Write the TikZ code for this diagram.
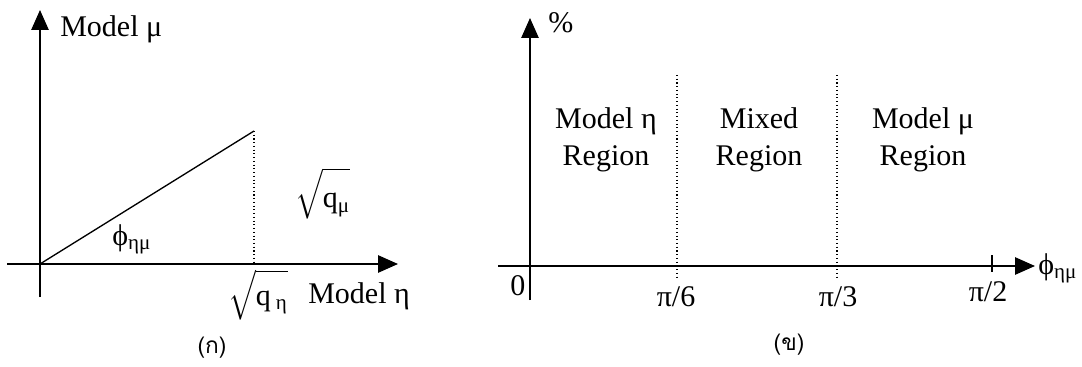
\documentclass[tikz,border=0pt]{standalone}
\usepackage{fontspec}
\usepackage{amsmath}
\setmainfont{Liberation Serif}
\newfontfamily\thaifont[Script=Thai]{Loma}
\usetikzlibrary{arrows.meta,positioning}

\begin{document}
\begin{tikzpicture}[x=0.75pt, y=-0.75pt,
    axis/.style={line width=1.3pt, -{Triangle[length=15pt,width=13pt]}},
    tick/.style={line width=1.3pt},
    slope/.style={line width=1pt},
    guide/.style={dotted, line width=0.8pt},
    lbl/.style={font=\fontsize{22.5}{27.75}\selectfont, inner sep=0pt},
    region/.style={lbl, align=center, anchor=center},
    caption/.style={font=\thaifont\fontsize{17}{20}\selectfont, inner sep=0pt},
]
  \useasboundingbox (0,0) rectangle (1082,367);

  % (a) the two models as axes
  \coordinate (lo)  at (40,264);
  \coordinate (lx0) at (7,264);
  \coordinate (lx1) at (398,264);
  \coordinate (ly0) at (40,297);
  \coordinate (ly1) at (40,10);
  \coordinate (pk)  at (254,131);
  \coordinate (pkb) at (254,264);

  \draw[axis] (lx0) -- (lx1);
  \draw[axis] (ly0) -- (ly1);
  \draw[slope] (lo) -- (pk);
  \draw[guide] (pk) -- (pkb);

  \node[lbl, anchor=base west] (mmu)  at (60,37)   {Model μ};
  \node[lbl, anchor=base west] (meta) at (308,303) {Model η};
  \node[lbl, anchor=base west] (qeta) at (228,305) {$\sqrt{\rule{0pt}{0.82em}\text{q\,\textsubscript{η}}}$};
  \node[lbl, anchor=base west] (qmu)  at (295,208) {$\sqrt{\rule{0pt}{1.12em}\text{q\textsubscript{μ}}}$};
  \node[lbl, anchor=base west] (phia) at (112,245) {ϕ\textsubscript{ημ}};
  \node[caption] (capa) at (212,348) {(ก)};

  % (b) regions along the angle
  \coordinate (rx0) at (498,266);
  \coordinate (rx1) at (1035,266);
  \coordinate (ry0) at (530,300);
  \coordinate (ry1) at (530,18);
  \coordinate (d1a) at (677,75);
  \coordinate (d1b) at (677,277);
  \coordinate (d2a) at (837,75);
  \coordinate (d2b) at (837,277);
  \coordinate (t3a) at (992,255);
  \coordinate (t3b) at (992,272);

  \draw[axis] (rx0) -- (rx1);
  \draw[axis] (ry0) -- (ry1);
  \draw[guide] (d1a) -- (d1b);
  \draw[guide] (d2a) -- (d2b);
  \draw[tick] (t3a) -- (t3b);

  \node[lbl, anchor=base west] (pct)  at (548,33)   {\%};
  \node[lbl, anchor=base west] (phib) at (1038,274) {ϕ\textsubscript{ημ}};
  \node[lbl, anchor=base west] (zero) at (510,295)  {0};
  \node[lbl, anchor=base] (pi6) at (676,306) {π/6};
  \node[lbl, anchor=base] (pi3) at (838,306) {π/3};
  \node[lbl, anchor=base] (pi2) at (988,301) {π/2};

  \node[region] (reta) at (606,140) {Model η\\Region};
  \node[region] (rmix) at (759,140) {Mixed\\Region};
  \node[region] (rmu)  at (923,140) {Model μ\\Region};
  \node[caption] (capb) at (789,345) {(ข)};
\end{tikzpicture}
\end{document}
